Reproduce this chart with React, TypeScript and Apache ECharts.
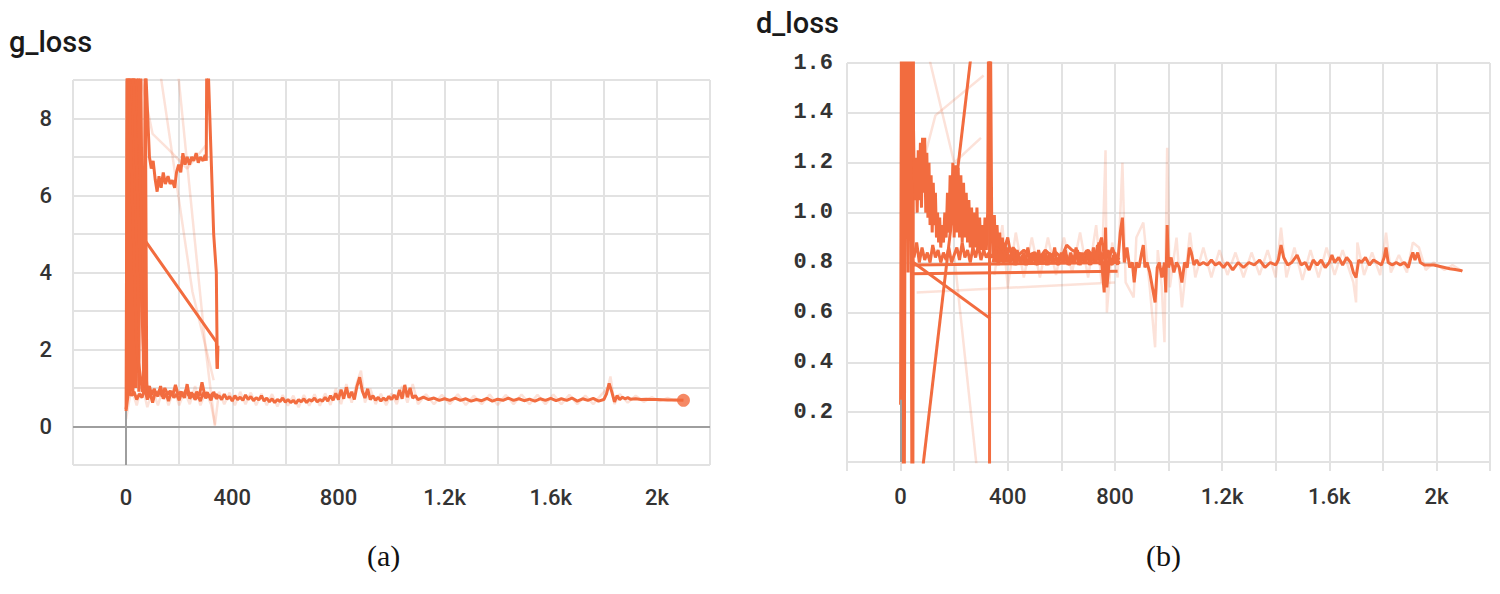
import React, { useEffect, useRef } from "react";
import * as echarts from "echarts";

// ---------- tick labels ----------
const xTickValues = [0, 400, 800, 1200, 1600, 2000];
const xTickLabels = ["0", "400", "800", "1.2k", "1.6k", "2k"];
const gYTickValues = [0, 2, 4, 6, 8];
const gYTickLabels = ["0", "2", "4", "6", "8"];
const dYTickValues = [0.2, 0.4, 0.6, 0.8, 1.0, 1.2, 1.4, 1.6];
const dYTickLabels = ["0.2", "0.4", "0.6", "0.8", "1.0", "1.2", "1.4", "1.6"];

// ---------- g_loss (panel a) ----------
const gMain = [
  [0, 0.45], [10, 0.95], [20, 0.8], [30, 0.9], [40, 0.7], [50, 0.85], [60, 0.75], [70, 1.0], [80, 0.7], [90, 0.88],
  [100, 0.62], [110, 0.9], [120, 0.78], [130, 1.05], [140, 0.72], [150, 0.86], [160, 0.66], [170, 0.92], [180, 0.75], [190, 0.84],
  [200, 0.68], [210, 0.9], [220, 0.74], [230, 1.1], [240, 0.72], [250, 0.85], [260, 0.7], [270, 0.8], [280, 0.66], [290, 0.88],
  [300, 0.74], [310, 0.82], [320, 0.68], [330, 0.9], [340, 0.72], [350, 0.8], [360, 0.7], [370, 0.84], [380, 0.71], [390, 0.78],
  [400, 0.66], [410, 0.8], [420, 0.7], [430, 0.76], [440, 0.68], [450, 0.82], [460, 0.7], [470, 0.78], [480, 0.67], [490, 0.75],
  [500, 0.69], [510, 0.8], [520, 0.66], [530, 0.74], [540, 0.64], [550, 0.72], [560, 0.62], [570, 0.7], [580, 0.65], [590, 0.74],
  [600, 0.63], [610, 0.7], [620, 0.62], [630, 0.68], [640, 0.6], [650, 0.7], [660, 0.64], [670, 0.72], [680, 0.62], [690, 0.7],
  [700, 0.66], [710, 0.74], [720, 0.64], [730, 0.7], [740, 0.66], [750, 0.76], [760, 0.66], [770, 0.8], [780, 0.68], [790, 0.86],
  [800, 0.7], [810, 0.96], [820, 0.72], [830, 1.02], [840, 0.74], [850, 0.9], [860, 0.7], [870, 1.05], [880, 1.28], [890, 0.92],
  [900, 0.74], [910, 0.98], [920, 0.7], [930, 0.8], [940, 0.68], [950, 0.76], [960, 0.66], [970, 0.74], [980, 0.68], [990, 0.78],
  [1000, 0.7], [1010, 0.82], [1020, 0.7], [1030, 0.95], [1040, 0.72], [1050, 1.08], [1060, 0.76], [1070, 1.0], [1080, 0.74], [1090, 0.8],
  [1100, 0.7], [1120, 0.76], [1140, 0.7], [1160, 0.74], [1180, 0.68], [1200, 0.72], [1220, 0.68], [1240, 0.74], [1260, 0.68], [1280, 0.72],
  [1300, 0.66], [1320, 0.7], [1340, 0.67], [1360, 0.73], [1380, 0.66], [1400, 0.71], [1420, 0.68], [1440, 0.74], [1460, 0.68], [1480, 0.72],
  [1500, 0.67], [1520, 0.71], [1540, 0.66], [1560, 0.72], [1580, 0.68], [1600, 0.73], [1620, 0.67], [1640, 0.72], [1660, 0.68], [1680, 0.74],
  [1700, 0.66], [1720, 0.72], [1740, 0.68], [1760, 0.73], [1780, 0.66], [1800, 0.7], [1810, 0.85], [1820, 1.12], [1830, 0.9], [1840, 0.64],
  [1850, 0.8], [1860, 0.7], [1870, 0.76], [1880, 0.72], [1890, 0.75], [1900, 0.71], [1920, 0.72], [1940, 0.7], [1960, 0.71], [1980, 0.7],
  [2000, 0.7], [2040, 0.69], [2070, 0.69], [2100, 0.68],
];
const gSecondRun = [
  [78, 0.9], [88, 1.05], [96, 0.82], [106, 0.98], [116, 0.8], [126, 0.95], [136, 0.78], [146, 1.0], [156, 0.84], [166, 0.92],
  [176, 0.8], [186, 1.08], [196, 0.82], [206, 0.9], [216, 0.78], [226, 0.95], [236, 0.8], [246, 0.88], [256, 0.76], [266, 0.9],
  [276, 0.8], [286, 1.15], [296, 0.82], [306, 0.88], [316, 0.76], [326, 0.86], [336, 0.78], [346, 0.84],
];
const gSpikes = [[0, 0.4], [4, 9.6], [10, 9.6], [14, 0.9], [20, 9.6], [28, 9.6], [44, 5.1], [340, 2.2], [343, 1.5]];
const gDense = [
  [2, 0.5], [5, 9.6], [9, 0.8], [13, 9.6], [17, 0.9], [21, 9.6], [26, 0.8], [31, 9.6], [36, 1.0], [41, 9.6],
  [48, 0.9], [55, 9.6], [66, 1.0], [72, 9.6], [78, 0.9],
];
const gSteep1 = [[8, 9.6], [40, 2.0], [62, 0.9]];
const gSteep2 = [[30, 9.6], [45, 9.6], [62, 3.0], [76, 1.3], [80, 0.8]];
const gSteep3 = [[24, 9.6], [70, 1.1], [90, 0.85]];
const gPlateau = [
  [60, 9.6], [72, 9.6], [88, 7.0], [95, 6.7], [102, 6.9], [110, 6.4], [117, 6.1], [124, 6.5], [132, 6.2], [140, 6.6],
  [148, 6.3], [158, 6.5], [166, 6.3], [174, 6.4], [183, 6.2], [190, 6.6], [198, 6.8], [206, 6.6], [214, 7.1], [222, 6.8],
  [230, 7.0], [239, 6.8], [247, 7.0], [255, 6.9], [264, 7.1], [272, 6.85], [280, 7.0], [290, 6.9], [298, 7.05], [302, 6.9], [304, 9.6],
];
const gDrop = [[300, 9.6], [308, 9.6], [330, 5.0], [340, 4.0], [342, 2.6], [344, 1.5], [346, 2.1]];
const gFaintMain = [
  [0, 0.2], [20, 1.0], [40, 0.55], [60, 1.1], [80, 0.5], [100, 0.95], [120, 0.55], [140, 1.0], [160, 0.55], [180, 0.98],
  [200, 0.55], [220, 0.92], [240, 0.58], [260, 1.05], [280, 0.55], [300, 0.9], [320, 0.58], [335, 0.05], [350, 0.9], [370, 0.58],
  [390, 0.88], [410, 0.55], [430, 0.9], [450, 0.58], [470, 0.88], [490, 0.55], [510, 0.85], [530, 0.55], [550, 0.84], [570, 0.52],
  [590, 0.82], [610, 0.54], [630, 0.8], [650, 0.5], [670, 0.82], [690, 0.54], [710, 0.84], [730, 0.54], [750, 0.86], [770, 0.56],
  [790, 0.98], [810, 0.58], [830, 1.1], [850, 0.62], [870, 1.15], [885, 1.45], [900, 0.62], [920, 0.98], [940, 0.58], [960, 0.85],
  [980, 0.55], [1000, 0.86], [1020, 0.58], [1040, 1.05], [1060, 0.62], [1080, 1.1], [1100, 0.58], [1130, 0.84], [1160, 0.58], [1190, 0.82],
  [1220, 0.58], [1250, 0.84], [1280, 0.56], [1310, 0.8], [1340, 0.58], [1370, 0.83], [1400, 0.56], [1430, 0.82], [1460, 0.58], [1490, 0.83],
  [1520, 0.58], [1550, 0.82], [1580, 0.58], [1610, 0.83], [1640, 0.58], [1670, 0.82], [1700, 0.58], [1730, 0.8], [1760, 0.58], [1790, 0.82],
  [1815, 1.0], [1825, 1.3], [1840, 0.58], [1860, 0.84], [1890, 0.62], [1920, 0.8], [1950, 0.64], [1980, 0.76], [2010, 0.66], [2040, 0.74],
  [2070, 0.66], [2100, 0.7],
];
const gFaintUpper1 = [[40, 9.6], [100, 7.6], [160, 7.2], [230, 6.7], [300, 7.3]];
const gFaintUpper2 = [[190, 9.6], [300, 2.0], [335, 0.0]];
const gFaintUpper3 = [[120, 9.6], [250, 3.5], [330, 1.2]];

// ---------- d_loss (panel b) ----------
const dSpikes = [[0, 0.23], [3, 1.7], [7, 1.7], [10, -0.05], [14, -0.05], [18, 1.7], [24, 1.7], [28, 0.76], [32, 1.7], [38, 1.7], [42, -0.05], [46, -0.05], [48, 1.7]];
const dLineUp = [[80, -0.05], [265, 1.65]];
const dVertical = [[332, 1.65], [332, -0.05]];
const dDiag = [[48, 0.8], [335, 0.575]];
const dHoriz1 = [[40, 0.755], [810, 0.765]];
const dHoriz2 = [[45, 0.79], [820, 0.8]];
const dEarly = [
  [45, 1.6], [50, 1.2], [54, 1.05], [58, 1.22], [62, 1.0], [66, 1.25], [70, 1.05], [74, 1.28], [78, 1.02], [82, 1.3],
  [86, 1.08], [90, 1.3], [94, 1.0], [98, 1.24], [102, 0.98], [106, 1.2], [110, 0.95], [114, 1.15], [118, 0.92], [122, 1.12],
  [126, 0.95], [130, 1.08], [134, 0.9], [138, 1.0], [142, 0.88], [146, 0.98], [150, 0.86], [155, 0.95], [160, 0.88], [165, 1.0],
  [170, 0.9], [175, 1.08], [180, 0.92], [185, 1.15], [190, 0.95], [195, 1.2], [200, 0.9], [205, 1.19], [210, 0.92], [215, 1.18],
  [220, 0.9], [225, 1.15], [230, 0.88], [235, 1.12], [240, 0.9], [245, 1.08], [250, 0.88], [255, 1.05], [260, 0.86], [265, 1.02],
  [270, 0.85], [275, 1.0], [280, 0.86], [285, 1.02], [290, 0.84], [295, 0.98], [300, 0.85], [305, 0.95], [310, 0.83], [315, 0.98],
  [320, 0.85], [325, 1.0], [328, 1.65],
];
const dAfterRestart = [
  [336, 1.65], [340, 0.98], [345, 0.82], [350, 0.99], [355, 0.8], [360, 0.95], [365, 0.82], [370, 0.92], [375, 0.8], [380, 0.9],
  [385, 0.8], [390, 0.88], [395, 0.8], [400, 0.86],
];
const dUpperRun = [
  [50, 0.82], [60, 0.88], [70, 0.8], [80, 0.86], [90, 0.81], [100, 0.84], [110, 0.8], [120, 0.87], [130, 0.82], [140, 0.85],
  [150, 0.8], [160, 0.84], [170, 0.81], [180, 0.86], [190, 0.8], [200, 0.83], [210, 0.86], [220, 0.81], [230, 0.88], [240, 0.82],
  [250, 0.85], [260, 0.8], [270, 0.86], [280, 0.82], [290, 0.87], [300, 0.81], [310, 0.85], [320, 0.82], [330, 0.84], [340, 0.82],
  [360, 0.86], [380, 0.83], [400, 0.9], [410, 0.84], [420, 0.86], [440, 0.83], [460, 0.85], [480, 0.83], [500, 0.84], [520, 0.82],
  [540, 0.85], [560, 0.83], [580, 0.84], [600, 0.82], [620, 0.87], [640, 0.85], [660, 0.84], [680, 0.83], [700, 0.85], [720, 0.82],
  [740, 0.86], [750, 0.9], [760, 0.83], [770, 0.84], [780, 0.82], [790, 0.86], [800, 0.83],
];
const dExtraRun = [
  [345, 0.8], [355, 0.85], [365, 0.79], [375, 0.84], [385, 0.8], [395, 0.86], [405, 0.8], [415, 0.84], [425, 0.79], [435, 0.85],
  [445, 0.8], [455, 0.83], [465, 0.79], [475, 0.86], [485, 0.8], [495, 0.84], [505, 0.79], [515, 0.85], [525, 0.8], [535, 0.83],
  [545, 0.79], [555, 0.84], [565, 0.8], [575, 0.86], [585, 0.79], [595, 0.83], [605, 0.8], [615, 0.85], [625, 0.79], [635, 0.84],
  [645, 0.8], [655, 0.86], [665, 0.79], [675, 0.84], [685, 0.8], [695, 0.85], [705, 0.79], [715, 0.84], [725, 0.8], [735, 0.87],
  [745, 0.79], [755, 0.84], [765, 0.8], [775, 0.85], [785, 0.79], [795, 0.83], [805, 0.8], [815, 0.82],
];
const dMain = [
  [400, 0.84], [410, 0.8], [420, 0.85], [430, 0.79], [440, 0.83], [450, 0.8], [460, 0.84], [470, 0.79], [480, 0.82], [490, 0.8],
  [500, 0.83], [510, 0.79], [520, 0.82], [530, 0.8], [540, 0.84], [550, 0.79], [560, 0.83], [570, 0.8], [580, 0.82], [590, 0.79],
  [600, 0.84], [610, 0.8], [620, 0.83], [630, 0.79], [640, 0.82], [650, 0.8], [660, 0.85], [670, 0.79], [680, 0.83], [690, 0.8],
  [700, 0.84], [710, 0.79], [720, 0.86], [730, 0.8], [740, 0.88], [750, 0.81], [760, 0.68], [765, 0.94], [770, 0.7], [780, 0.82],
  [790, 0.79], [800, 0.84], [810, 0.79], [820, 0.92], [828, 0.98], [835, 0.8], [845, 0.86], [855, 0.78], [865, 0.8], [872, 0.72],
  [880, 0.8], [890, 0.78], [900, 0.84], [906, 0.87], [912, 0.78], [920, 0.8], [930, 0.76], [940, 0.7], [950, 0.64], [958, 0.78],
  [966, 0.8], [975, 0.74], [985, 0.8], [990, 0.68], [995, 0.95], [1000, 0.78], [1010, 0.82], [1020, 0.76], [1030, 0.8], [1040, 0.78],
  [1050, 0.72], [1060, 0.8], [1070, 0.78], [1078, 0.86], [1085, 0.84], [1095, 0.79], [1105, 0.81], [1115, 0.79], [1130, 0.8], [1145, 0.79],
  [1160, 0.81], [1175, 0.79], [1190, 0.8], [1205, 0.78], [1220, 0.8], [1240, 0.77], [1260, 0.8], [1280, 0.78], [1300, 0.8], [1320, 0.79],
  [1340, 0.81], [1360, 0.78], [1380, 0.8], [1400, 0.79], [1410, 0.81], [1420, 0.87], [1430, 0.82], [1445, 0.79], [1460, 0.8], [1480, 0.83],
  [1495, 0.79], [1510, 0.8], [1525, 0.77], [1540, 0.81], [1555, 0.79], [1570, 0.81], [1585, 0.78], [1600, 0.8], [1610, 0.83], [1620, 0.8],
  [1635, 0.82], [1650, 0.79], [1665, 0.82], [1680, 0.8], [1690, 0.76], [1700, 0.74], [1710, 0.81], [1720, 0.8], [1735, 0.82], [1750, 0.79],
  [1765, 0.81], [1780, 0.8], [1795, 0.79], [1805, 0.82], [1812, 0.86], [1820, 0.8], [1835, 0.79], [1850, 0.8], [1865, 0.79], [1880, 0.8],
  [1895, 0.78], [1905, 0.82], [1912, 0.84], [1920, 0.81], [1930, 0.84], [1940, 0.8], [1955, 0.79], [1970, 0.79], [1990, 0.79], [2010, 0.785],
  [2030, 0.78], [2050, 0.775], [2070, 0.772], [2090, 0.768], [2097, 0.765],
];
const dFaintMain = [
  [350, 0.75], [380, 0.95], [400, 0.7], [430, 0.92], [460, 0.74], [490, 0.9], [520, 0.74], [550, 0.9], [580, 0.75], [610, 0.9],
  [640, 0.76], [670, 0.92], [700, 0.74], [730, 0.95], [750, 0.72], [765, 1.25], [770, 0.6], [790, 0.88], [810, 0.74], [828, 1.2],
  [840, 0.72], [870, 0.66], [880, 0.9], [906, 0.96], [930, 0.7], [950, 0.46], [960, 0.85], [975, 0.7], [985, 0.48], [995, 1.26],
  [1005, 0.7], [1030, 0.9], [1050, 0.62], [1080, 0.92], [1100, 0.74], [1130, 0.86], [1160, 0.74], [1190, 0.85], [1220, 0.75], [1250, 0.84],
  [1280, 0.74], [1310, 0.84], [1340, 0.75], [1370, 0.85], [1400, 0.74], [1420, 0.94], [1440, 0.74], [1470, 0.86], [1500, 0.73], [1530, 0.85],
  [1560, 0.74], [1590, 0.86], [1620, 0.75], [1650, 0.85], [1690, 0.72], [1700, 0.64], [1705, 0.88], [1730, 0.75], [1760, 0.84], [1790, 0.75],
  [1812, 0.92], [1830, 0.76], [1860, 0.83], [1890, 0.76], [1912, 0.88], [1935, 0.86], [1960, 0.77], [1990, 0.8], [2030, 0.77], [2060, 0.79],
  [2097, 0.765],
];
const dFaintUpper1 = [[60, 1.1], [130, 1.39], [310, 1.55]];
const dFaintUpper2 = [[100, 1.65], [200, 1.2], [300, 1.3]];
const dFaintDown = [[200, 0.83], [287, -0.05]];
const dFaintLow = [[60, 0.68], [800, 0.72]];

const DARK = "#f26c3f";
const FAINT = "rgba(242,108,63,0.2)";
const GRID = "#e2e2e2";
const W = 3;

function line(data: number[][], idx: number, color: string, width: number, z: number) {
  return {
    type: "line",
    data,
    xAxisIndex: idx,
    yAxisIndex: idx,
    showSymbol: false,
    symbol: "none",
    lineStyle: { color, width },
    itemStyle: { color },
    z,
    silent: true,
    clip: true,
  };
}

function lookup(values: number[], labels: string[]) {
  return (v: number) => {
    const i = values.findIndex((a) => Math.abs(a - v) < 1e-6);
    return i >= 0 ? labels[i] : "";
  };
}

export default function App() {
  const ref = useRef<HTMLDivElement>(null);
  useEffect(() => {
    if (!ref.current) return;
    const chart = echarts.init(ref.current, undefined, { renderer: "svg" });
    const xAxisBase = (gridIndex: number, margin: number) => ({
      type: "value",
      gridIndex,
      min: -200,
      max: 2200,
      interval: 200,
      axisLine: { show: false },
      axisTick: { show: true, length: 9, lineStyle: { color: GRID, width: 2 } },
      splitLine: { show: true, lineStyle: { color: GRID, width: 2 } },
      axisLabel: {
        formatter: lookup(xTickValues, xTickLabels),
        fontSize: 22,
        fontFamily: "Roboto",
        fontWeight: 500,
        color: "#333",
        margin,
      },
    });
    const zeroLines = (idx: number, data: any[]) => ({
      type: "line",
      data: [],
      xAxisIndex: idx,
      yAxisIndex: idx,
      z: 1,
      silent: true,
      markLine: {
        silent: true,
        symbol: ["none", "none"],
        label: { show: false },
        lineStyle: { color: "#9e9e9e", width: 2, type: "solid" },
        data,
        animation: false,
      },
    });
    chart.setOption({
      animation: false,
      backgroundColor: "#ffffff",
      grid: [
        { left: 73, top: 80, width: 637, height: 385 },
        { left: 847, top: 63, width: 643, height: 399 },
      ],
      xAxis: [xAxisBase(0, 21), xAxisBase(1, 23)],
      yAxis: [
        {
          type: "value",
          gridIndex: 0,
          min: -1,
          max: 9,
          interval: 1,
          axisLine: { show: false },
          axisTick: { show: true, length: 9, lineStyle: { color: GRID, width: 2 } },
          splitLine: { show: true, lineStyle: { color: GRID, width: 2 } },
          axisLabel: {
            formatter: lookup(gYTickValues, gYTickLabels),
            fontSize: 22,
            fontFamily: "Roboto",
            fontWeight: 500,
            color: "#333",
            margin: 21,
          },
        },
        {
          type: "value",
          gridIndex: 1,
          min: 0,
          max: 1.6,
          interval: 0.2,
          axisLine: { show: false },
          axisTick: { show: true, length: 10, lineStyle: { color: GRID, width: 2 } },
          splitLine: { show: true, lineStyle: { color: GRID, width: 2 } },
          axisLabel: {
            formatter: lookup(dYTickValues, dYTickLabels),
            fontSize: 22,
            fontFamily: "Liberation Mono",
            fontWeight: "bold",
            color: "#333",
            margin: 14,
          },
        },
      ],
      graphic: [
        { type: "text", left: 9, top: 27, style: { text: "g_loss", fontSize: 29, fontFamily: "Roboto", fontWeight: 500, fill: "#1a1a1a" } },
        { type: "text", left: 756, top: 8, style: { text: "d_loss", fontSize: 29, fontFamily: "Roboto", fontWeight: 500, fill: "#1a1a1a" } },
        { type: "text", left: 367, top: 540, style: { text: "(a)", fontSize: 30, fontFamily: "Liberation Serif", fill: "#111" } },
        { type: "text", left: 1146, top: 540, style: { text: "(b)", fontSize: 30, fontFamily: "Liberation Serif", fill: "#111" } },
      ],
      series: [
        zeroLines(0, [[{ coord: [0, -1] }, { coord: [0, 0.4] }], { yAxis: 0 }]),
        zeroLines(1, [[{ coord: [0, 0] }, { coord: [0, 0.25] }]]),
        // panel a faint
        line(gFaintMain, 0, FAINT, 2.5, 2),
        line(gFaintUpper1, 0, FAINT, 2.5, 2),
        line(gFaintUpper2, 0, FAINT, 2.5, 2),
        line(gFaintUpper3, 0, FAINT, 2.5, 2),
        // panel a dark
        line(gSpikes, 0, DARK, W, 3),
        line(gDense, 0, DARK, W, 3),
        line(gSteep1, 0, DARK, W, 3),
        line(gSteep2, 0, DARK, W, 3),
        line(gSteep3, 0, DARK, W, 3),
        line(gPlateau, 0, DARK, W, 3),
        line(gDrop, 0, DARK, W, 3),
        line(gSecondRun, 0, DARK, W, 3),
        line(gMain, 0, DARK, W, 3),
        {
          type: "scatter",
          data: [gMain[gMain.length - 1]],
          xAxisIndex: 0,
          yAxisIndex: 0,
          symbolSize: 13,
          itemStyle: { color: DARK },
          z: 4,
          silent: true,
        },
        // panel b faint
        line(dFaintMain, 1, FAINT, 2.5, 2),
        line(dFaintUpper1, 1, FAINT, 2.5, 2),
        line(dFaintUpper2, 1, FAINT, 2.5, 2),
        line(dFaintDown, 1, FAINT, 2.5, 2),
        line(dFaintLow, 1, FAINT, 2.5, 2),
        // panel b dark
        line(dSpikes, 1, DARK, W, 3),
        line(dLineUp, 1, DARK, W, 3),
        line(dVertical, 1, DARK, W, 3),
        line(dDiag, 1, DARK, W, 3),
        line(dHoriz1, 1, DARK, W, 3),
        line(dHoriz2, 1, DARK, W, 3),
        line(dEarly, 1, DARK, W, 3),
        line(dAfterRestart, 1, DARK, W, 3),
        line(dUpperRun, 1, DARK, W, 3),
        line(dExtraRun, 1, DARK, W, 3),
        line(dMain, 1, DARK, W, 3),
      ],
    });
    return () => chart.dispose();
  }, []);
  return (
    <div
      ref={ref}
      style={{ position: "fixed", left: 0, top: 0, width: 1500, height: 594, background: "#fff" }}
    />
  );
}
